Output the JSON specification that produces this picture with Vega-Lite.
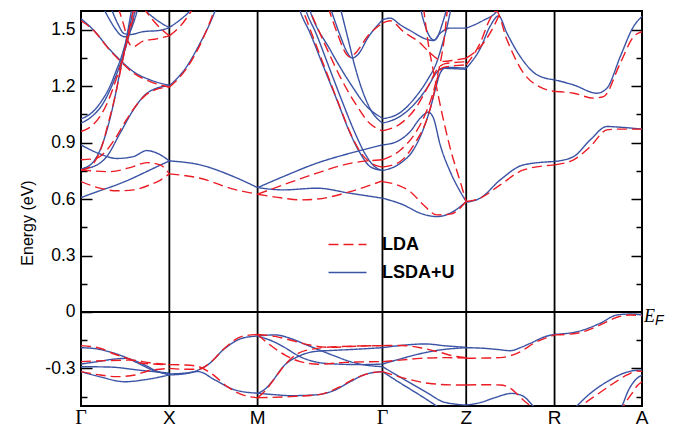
{
  "$schema": "https://vega.github.io/schema/vega-lite/v6.json",
  "width": 561,
  "height": 395,
  "autosize": {"type": "none"},
  "padding": {"left": 81, "top": 11, "right": 32, "bottom": 22},
  "config": {
    "view": {"stroke": "black", "strokeWidth": 2},
    "font": "Liberation Sans"
  },
  "resolve": {"axis": {"y": "independent"}},
  "layer": [
    {
      "data": {"values": [{"k": 88.3}, {"k": 176.5}, {"k": 301.3}, {"k": 385}, {"k": 473.3}]},
      "mark": {"type": "rule", "color": "black", "strokeWidth": 1.8},
      "encoding": {
        "x": {"field": "k", "type": "quantitative", "scale": {"domain": [0, 560.7], "nice": false, "zero": false}, "axis": null}
      }
    },
    {
      "data": {"values": [
        {"m":"LSDA+U","b":"bv1","k":0,"e":-0.19},{"m":"LSDA+U","b":"bv1","k":14,"e":-0.195},{"m":"LSDA+U","b":"bv1","k":27,"e":-0.21},{"m":"LSDA+U","b":"bv1","k":44,"e":-0.24},{"m":"LSDA+U","b":"bv1","k":60,"e":-0.28},{"m":"LSDA+U","b":"bv1","k":74,"e":-0.315},{"m":"LSDA+U","b":"bv1","k":88.3,"e":-0.33},
        {"m":"LSDA+U","b":"bv2","k":0,"e":-0.277},{"m":"LSDA+U","b":"bv2","k":19,"e":-0.262},{"m":"LSDA+U","b":"bv2","k":34,"e":-0.25},{"m":"LSDA+U","b":"bv2","k":44,"e":-0.247},{"m":"LSDA+U","b":"bv2","k":59,"e":-0.27},{"m":"LSDA+U","b":"bv2","k":74,"e":-0.31},{"m":"LSDA+U","b":"bv2","k":88.3,"e":-0.335},
        {"m":"LSDA+U","b":"bv3","k":0,"e":-0.291},{"m":"LSDA+U","b":"bv3","k":29,"e":-0.293},{"m":"LSDA+U","b":"bv3","k":59,"e":-0.31},{"m":"LSDA+U","b":"bv3","k":88.3,"e":-0.325},
        {"m":"LSDA+U","b":"bv4","k":0,"e":-0.317},{"m":"LSDA+U","b":"bv4","k":19,"e":-0.345},{"m":"LSDA+U","b":"bv4","k":44,"e":-0.371},{"m":"LSDA+U","b":"bv4","k":64,"e":-0.36},{"m":"LSDA+U","b":"bv4","k":88.3,"e":-0.335},
        {"m":"LSDA+U","b":"bv5","k":88.3,"e":-0.335},{"m":"LSDA+U","b":"bv5","k":107,"e":-0.326},{"m":"LSDA+U","b":"bv5","k":117,"e":-0.309},{"m":"LSDA+U","b":"bv5","k":127,"e":-0.28},{"m":"LSDA+U","b":"bv5","k":144,"e":-0.193},{"m":"LSDA+U","b":"bv5","k":161,"e":-0.14},{"m":"LSDA+U","b":"bv5","k":176.5,"e":-0.128},
        {"m":"LSDA+U","b":"bv6","k":88.3,"e":-0.33},{"m":"LSDA+U","b":"bv6","k":104,"e":-0.325},{"m":"LSDA+U","b":"bv6","k":117,"e":-0.317},{"m":"LSDA+U","b":"bv6","k":134,"e":-0.362},{"m":"LSDA+U","b":"bv6","k":154,"e":-0.415},{"m":"LSDA+U","b":"bv6","k":176.5,"e":-0.432},
        {"m":"LSDA+U","b":"bv7","k":176.5,"e":-0.128},{"m":"LSDA+U","b":"bv7","k":194,"e":-0.122},{"m":"LSDA+U","b":"bv7","k":209,"e":-0.14},{"m":"LSDA+U","b":"bv7","k":224,"e":-0.172},{"m":"LSDA+U","b":"bv7","k":237,"e":-0.2},{"m":"LSDA+U","b":"bv7","k":254,"e":-0.235},{"m":"LSDA+U","b":"bv7","k":269,"e":-0.264},{"m":"LSDA+U","b":"bv7","k":284,"e":-0.282},{"m":"LSDA+U","b":"bv7","k":301.3,"e":-0.291},
        {"m":"LSDA+U","b":"bv8","k":176.5,"e":-0.13},{"m":"LSDA+U","b":"bv8","k":189,"e":-0.15},{"m":"LSDA+U","b":"bv8","k":202,"e":-0.184},{"m":"LSDA+U","b":"bv8","k":219,"e":-0.238},{"m":"LSDA+U","b":"bv8","k":234,"e":-0.265},{"m":"LSDA+U","b":"bv8","k":249,"e":-0.275},{"m":"LSDA+U","b":"bv8","k":279,"e":-0.28},{"m":"LSDA+U","b":"bv8","k":301.3,"e":-0.277},
        {"m":"LSDA+U","b":"bv9","k":176.5,"e":-0.432},{"m":"LSDA+U","b":"bv9","k":184,"e":-0.41},{"m":"LSDA+U","b":"bv9","k":191,"e":-0.37},{"m":"LSDA+U","b":"bv9","k":202,"e":-0.291},{"m":"LSDA+U","b":"bv9","k":219,"e":-0.232},{"m":"LSDA+U","b":"bv9","k":234,"e":-0.21},{"m":"LSDA+U","b":"bv9","k":249,"e":-0.205},{"m":"LSDA+U","b":"bv9","k":269,"e":-0.2},{"m":"LSDA+U","b":"bv9","k":301.3,"e":-0.19},
        {"m":"LSDA+U","b":"bv10","k":176.5,"e":-0.432},{"m":"LSDA+U","b":"bv10","k":194,"e":-0.44},{"m":"LSDA+U","b":"bv10","k":209,"e":-0.445},{"m":"LSDA+U","b":"bv10","k":234,"e":-0.441},{"m":"LSDA+U","b":"bv10","k":254,"e":-0.415},{"m":"LSDA+U","b":"bv10","k":269,"e":-0.371},{"m":"LSDA+U","b":"bv10","k":284,"e":-0.332},{"m":"LSDA+U","b":"bv10","k":301.3,"e":-0.317},
        {"m":"LSDA+U","b":"bv11","k":301.3,"e":-0.19},{"m":"LSDA+U","b":"bv11","k":324,"e":-0.176},{"m":"LSDA+U","b":"bv11","k":344,"e":-0.17},{"m":"LSDA+U","b":"bv11","k":364,"e":-0.18},{"m":"LSDA+U","b":"bv11","k":385,"e":-0.188},
        {"m":"LSDA+U","b":"bv12","k":301.3,"e":-0.277},{"m":"LSDA+U","b":"bv12","k":319,"e":-0.25},{"m":"LSDA+U","b":"bv12","k":339,"e":-0.222},{"m":"LSDA+U","b":"bv12","k":359,"e":-0.202},{"m":"LSDA+U","b":"bv12","k":385,"e":-0.19},
        {"m":"LSDA+U","b":"bv13","k":301.3,"e":-0.291},{"m":"LSDA+U","b":"bv13","k":324,"e":-0.362},{"m":"LSDA+U","b":"bv13","k":347,"e":-0.433},{"m":"LSDA+U","b":"bv13","k":361,"e":-0.476},{"m":"LSDA+U","b":"bv13","k":374,"e":-0.49},{"m":"LSDA+U","b":"bv13","k":385,"e":-0.495},
        {"m":"LSDA+U","b":"bv14","k":301.3,"e":-0.317},{"m":"LSDA+U","b":"bv14","k":317,"e":-0.371},{"m":"LSDA+U","b":"bv14","k":341,"e":-0.45},{"m":"LSDA+U","b":"bv14","k":354,"e":-0.495},{"m":"LSDA+U","b":"bv14","k":364,"e":-0.53},
        {"m":"LSDA+U","b":"bv15","k":385,"e":-0.19},{"m":"LSDA+U","b":"bv15","k":402,"e":-0.193},{"m":"LSDA+U","b":"bv15","k":417,"e":-0.2},{"m":"LSDA+U","b":"bv15","k":429,"e":-0.206},{"m":"LSDA+U","b":"bv15","k":439,"e":-0.19},{"m":"LSDA+U","b":"bv15","k":449,"e":-0.167},{"m":"LSDA+U","b":"bv15","k":465.7,"e":-0.128},{"m":"LSDA+U","b":"bv15","k":473.3,"e":-0.119},
        {"m":"LSDA+U","b":"bv16","k":385,"e":-0.495},{"m":"LSDA+U","b":"bv16","k":399,"e":-0.482},{"m":"LSDA+U","b":"bv16","k":414,"e":-0.455},{"m":"LSDA+U","b":"bv16","k":430.7,"e":-0.433},{"m":"LSDA+U","b":"bv16","k":441,"e":-0.445},{"m":"LSDA+U","b":"bv16","k":452,"e":-0.5},{"m":"LSDA+U","b":"bv16","k":459,"e":-0.54},
        {"m":"LSDA+U","b":"bv17","k":473.3,"e":-0.119},{"m":"LSDA+U","b":"bv17","k":495.7,"e":-0.105},{"m":"LSDA+U","b":"bv17","k":519,"e":-0.06},{"m":"LSDA+U","b":"bv17","k":535.7,"e":-0.016},{"m":"LSDA+U","b":"bv17","k":549,"e":-0.011},{"m":"LSDA+U","b":"bv17","k":560.7,"e":-0.016},
        {"m":"LSDA+U","b":"bv18","k":489,"e":-0.54},{"m":"LSDA+U","b":"bv18","k":495.7,"e":-0.5},{"m":"LSDA+U","b":"bv18","k":509,"e":-0.433},{"m":"LSDA+U","b":"bv18","k":525.7,"e":-0.371},{"m":"LSDA+U","b":"bv18","k":542.3,"e":-0.326},{"m":"LSDA+U","b":"bv18","k":552.3,"e":-0.312},{"m":"LSDA+U","b":"bv18","k":560.7,"e":-0.309},
        {"m":"LSDA+U","b":"bv19","k":537,"e":-0.54},{"m":"LSDA+U","b":"bv19","k":540.7,"e":-0.5},{"m":"LSDA+U","b":"bv19","k":547.3,"e":-0.415},{"m":"LSDA+U","b":"bv19","k":554,"e":-0.362},{"m":"LSDA+U","b":"bv19","k":560.7,"e":-0.335},

        {"m":"LDA","b":"rv1","k":0,"e":-0.179},{"m":"LDA","b":"rv1","k":19,"e":-0.193},{"m":"LDA","b":"rv1","k":34,"e":-0.225},{"m":"LDA","b":"rv1","k":46,"e":-0.246},{"m":"LDA","b":"rv1","k":62,"e":-0.273},{"m":"LDA","b":"rv1","k":88.3,"e":-0.28},
        {"m":"LDA","b":"rv2","k":0,"e":-0.264},{"m":"LDA","b":"rv2","k":29,"e":-0.258},{"m":"LDA","b":"rv2","k":49,"e":-0.256},{"m":"LDA","b":"rv2","k":69,"e":-0.27},{"m":"LDA","b":"rv2","k":88.3,"e":-0.28},
        {"m":"LDA","b":"rv3","k":0,"e":-0.317},{"m":"LDA","b":"rv3","k":19,"e":-0.335},{"m":"LDA","b":"rv3","k":36,"e":-0.344},{"m":"LDA","b":"rv3","k":54,"e":-0.335},{"m":"LDA","b":"rv3","k":66,"e":-0.315},{"m":"LDA","b":"rv3","k":88.3,"e":-0.3},
        {"m":"LDA","b":"rv4","k":88.3,"e":-0.3},{"m":"LDA","b":"rv4","k":104,"e":-0.305},{"m":"LDA","b":"rv4","k":117,"e":-0.305},{"m":"LDA","b":"rv4","k":129,"e":-0.27},{"m":"LDA","b":"rv4","k":144,"e":-0.19},{"m":"LDA","b":"rv4","k":161,"e":-0.13},{"m":"LDA","b":"rv4","k":176.5,"e":-0.12},
        {"m":"LDA","b":"rv5","k":88.3,"e":-0.28},{"m":"LDA","b":"rv5","k":104,"e":-0.282},{"m":"LDA","b":"rv5","k":117,"e":-0.29},{"m":"LDA","b":"rv5","k":131,"e":-0.33},{"m":"LDA","b":"rv5","k":147,"e":-0.4},{"m":"LDA","b":"rv5","k":164,"e":-0.445},{"m":"LDA","b":"rv5","k":176.5,"e":-0.456},
        {"m":"LDA","b":"rv6","k":176.5,"e":-0.12},{"m":"LDA","b":"rv6","k":194,"e":-0.13},{"m":"LDA","b":"rv6","k":209,"e":-0.149},{"m":"LDA","b":"rv6","k":229,"e":-0.176},{"m":"LDA","b":"rv6","k":249,"e":-0.188},{"m":"LDA","b":"rv6","k":274,"e":-0.182},{"m":"LDA","b":"rv6","k":301.3,"e":-0.179},
        {"m":"LDA","b":"rv7","k":176.5,"e":-0.12},{"m":"LDA","b":"rv7","k":189,"e":-0.176},{"m":"LDA","b":"rv7","k":204,"e":-0.229},{"m":"LDA","b":"rv7","k":219,"e":-0.264},{"m":"LDA","b":"rv7","k":239,"e":-0.278},{"m":"LDA","b":"rv7","k":264,"e":-0.268},{"m":"LDA","b":"rv7","k":301.3,"e":-0.264},
        {"m":"LDA","b":"rv8","k":176.5,"e":-0.456},{"m":"LDA","b":"rv8","k":184,"e":-0.42},{"m":"LDA","b":"rv8","k":194,"e":-0.35},{"m":"LDA","b":"rv8","k":204,"e":-0.28},{"m":"LDA","b":"rv8","k":217,"e":-0.22},{"m":"LDA","b":"rv8","k":234,"e":-0.195},{"m":"LDA","b":"rv8","k":254,"e":-0.185},{"m":"LDA","b":"rv8","k":301.3,"e":-0.179},
        {"m":"LDA","b":"rv9","k":176.5,"e":-0.456},{"m":"LDA","b":"rv9","k":209,"e":-0.45},{"m":"LDA","b":"rv9","k":239,"e":-0.438},{"m":"LDA","b":"rv9","k":259,"e":-0.397},{"m":"LDA","b":"rv9","k":274,"e":-0.353},{"m":"LDA","b":"rv9","k":289,"e":-0.325},{"m":"LDA","b":"rv9","k":301.3,"e":-0.317},
        {"m":"LDA","b":"rv10","k":301.3,"e":-0.179},{"m":"LDA","b":"rv10","k":319,"e":-0.178},{"m":"LDA","b":"rv10","k":339,"e":-0.19},{"m":"LDA","b":"rv10","k":359,"e":-0.215},{"m":"LDA","b":"rv10","k":374,"e":-0.236},{"m":"LDA","b":"rv10","k":385,"e":-0.243},
        {"m":"LDA","b":"rv11","k":301.3,"e":-0.264},{"m":"LDA","b":"rv11","k":319,"e":-0.256},{"m":"LDA","b":"rv11","k":339,"e":-0.247},{"m":"LDA","b":"rv11","k":364,"e":-0.243},{"m":"LDA","b":"rv11","k":385,"e":-0.245},
        {"m":"LDA","b":"rv12","k":301.3,"e":-0.317},{"m":"LDA","b":"rv12","k":324,"e":-0.353},{"m":"LDA","b":"rv12","k":347,"e":-0.379},{"m":"LDA","b":"rv12","k":374,"e":-0.388},{"m":"LDA","b":"rv12","k":385,"e":-0.388},
        {"m":"LDA","b":"rv13","k":385,"e":-0.246},{"m":"LDA","b":"rv13","k":404,"e":-0.245},{"m":"LDA","b":"rv13","k":419,"e":-0.243},{"m":"LDA","b":"rv13","k":435.7,"e":-0.22},{"m":"LDA","b":"rv13","k":455.7,"e":-0.158},{"m":"LDA","b":"rv13","k":473.3,"e":-0.122},
        {"m":"LDA","b":"rv14","k":385,"e":-0.388},{"m":"LDA","b":"rv14","k":404,"e":-0.387},{"m":"LDA","b":"rv14","k":419,"e":-0.388},{"m":"LDA","b":"rv14","k":429,"e":-0.405},{"m":"LDA","b":"rv14","k":442,"e":-0.468},{"m":"LDA","b":"rv14","k":449,"e":-0.5},{"m":"LDA","b":"rv14","k":456,"e":-0.54},
        {"m":"LDA","b":"rv15","k":473.3,"e":-0.122},{"m":"LDA","b":"rv15","k":495.7,"e":-0.113},{"m":"LDA","b":"rv15","k":519,"e":-0.069},{"m":"LDA","b":"rv15","k":535.7,"e":-0.028},{"m":"LDA","b":"rv15","k":549,"e":-0.016},{"m":"LDA","b":"rv15","k":560.7,"e":-0.021},
        {"m":"LDA","b":"rv16","k":494,"e":-0.54},{"m":"LDA","b":"rv16","k":500.7,"e":-0.5},{"m":"LDA","b":"rv16","k":515.7,"e":-0.44},{"m":"LDA","b":"rv16","k":532.3,"e":-0.379},{"m":"LDA","b":"rv16","k":545.7,"e":-0.335},{"m":"LDA","b":"rv16","k":555.7,"e":-0.314},{"m":"LDA","b":"rv16","k":560.7,"e":-0.316},
        {"m":"LDA","b":"rv17","k":539,"e":-0.54},{"m":"LDA","b":"rv17","k":542.3,"e":-0.5},{"m":"LDA","b":"rv17","k":550.7,"e":-0.433},{"m":"LDA","b":"rv17","k":555.7,"e":-0.394},{"m":"LDA","b":"rv17","k":560.7,"e":-0.371},

        {"m":"LSDA+U","b":"bc1","k":0,"e":0.608},{"m":"LSDA+U","b":"bc1","k":19,"e":0.645},{"m":"LSDA+U","b":"bc1","k":35.7,"e":0.676},{"m":"LSDA+U","b":"bc1","k":49,"e":0.705},{"m":"LSDA+U","b":"bc1","k":62.3,"e":0.738},{"m":"LSDA+U","b":"bc1","k":75,"e":0.77},{"m":"LSDA+U","b":"bc1","k":88.3,"e":0.803},
        {"m":"LSDA+U","b":"bc2","k":0,"e":0.888},{"m":"LSDA+U","b":"bc2","k":19,"e":0.84},{"m":"LSDA+U","b":"bc2","k":35.7,"e":0.816},{"m":"LSDA+U","b":"bc2","k":52.3,"e":0.826},{"m":"LSDA+U","b":"bc2","k":65.7,"e":0.858},{"m":"LSDA+U","b":"bc2","k":75.7,"e":0.845},{"m":"LSDA+U","b":"bc2","k":88.3,"e":0.803},
        {"m":"LSDA+U","b":"bc3","k":0,"e":0.761},{"m":"LSDA+U","b":"bc3","k":12.3,"e":0.773},{"m":"LSDA+U","b":"bc3","k":25.7,"e":0.826},{"m":"LSDA+U","b":"bc3","k":39,"e":0.95},{"m":"LSDA+U","b":"bc3","k":52.3,"e":1.074},{"m":"LSDA+U","b":"bc3","k":62.3,"e":1.145},{"m":"LSDA+U","b":"bc3","k":75.7,"e":1.19},{"m":"LSDA+U","b":"bc3","k":88.3,"e":1.202},
        {"m":"LSDA+U","b":"bc4","k":0,"e":1.559},{"m":"LSDA+U","b":"bc4","k":12.3,"e":1.5},{"m":"LSDA+U","b":"bc4","k":29,"e":1.394},{"m":"LSDA+U","b":"bc4","k":39,"e":1.34},{"m":"LSDA+U","b":"bc4","k":52.3,"e":1.278},{"m":"LSDA+U","b":"bc4","k":69,"e":1.234},{"m":"LSDA+U","b":"bc4","k":88.3,"e":1.205},
        {"m":"LSDA+U","b":"bc5","k":0,"e":0.761},{"m":"LSDA+U","b":"bc5","k":11,"e":0.79},{"m":"LSDA+U","b":"bc5","k":19,"e":0.86},{"m":"LSDA+U","b":"bc5","k":25,"e":0.95},{"m":"LSDA+U","b":"bc5","k":30,"e":1.05},{"m":"LSDA+U","b":"bc5","k":35,"e":1.17},{"m":"LSDA+U","b":"bc5","k":39,"e":1.28},{"m":"LSDA+U","b":"bc5","k":43,"e":1.38},{"m":"LSDA+U","b":"bc5","k":47,"e":1.5},{"m":"LSDA+U","b":"bc5","k":51,"e":1.62},
        {"m":"LSDA+U","b":"bc6","k":0,"e":1.004},{"m":"LSDA+U","b":"bc6","k":11,"e":1.04},{"m":"LSDA+U","b":"bc6","k":21,"e":1.1},{"m":"LSDA+U","b":"bc6","k":29,"e":1.18},{"m":"LSDA+U","b":"bc6","k":36,"e":1.27},{"m":"LSDA+U","b":"bc6","k":42,"e":1.36},{"m":"LSDA+U","b":"bc6","k":48,"e":1.47},{"m":"LSDA+U","b":"bc6","k":54,"e":1.6},{"m":"LSDA+U","b":"bc6","k":56,"e":1.65},
        {"m":"LSDA+U","b":"bc7","k":0,"e":1.027},{"m":"LSDA+U","b":"bc7","k":11,"e":1.06},{"m":"LSDA+U","b":"bc7","k":21,"e":1.125},{"m":"LSDA+U","b":"bc7","k":29,"e":1.2},{"m":"LSDA+U","b":"bc7","k":35,"e":1.28},{"m":"LSDA+U","b":"bc7","k":40,"e":1.35},{"m":"LSDA+U","b":"bc7","k":45,"e":1.44},{"m":"LSDA+U","b":"bc7","k":50,"e":1.55},{"m":"LSDA+U","b":"bc7","k":53,"e":1.62},
        {"m":"LSDA+U","b":"bcU1","k":22,"e":1.62},{"m":"LSDA+U","b":"bcU1","k":29,"e":1.55},{"m":"LSDA+U","b":"bcU1","k":35,"e":1.5},{"m":"LSDA+U","b":"bcU1","k":40,"e":1.47},{"m":"LSDA+U","b":"bcU1","k":44,"e":1.463},{"m":"LSDA+U","b":"bcU1","k":48,"e":1.48},{"m":"LSDA+U","b":"bcU1","k":52,"e":1.53},{"m":"LSDA+U","b":"bcU1","k":56,"e":1.6},{"m":"LSDA+U","b":"bcU1","k":58,"e":1.65},
        {"m":"LSDA+U","b":"bcU2","k":29,"e":1.63},{"m":"LSDA+U","b":"bcU2","k":37,"e":1.53},{"m":"LSDA+U","b":"bcU2","k":43,"e":1.48},{"m":"LSDA+U","b":"bcU2","k":49,"e":1.475},{"m":"LSDA+U","b":"bcU2","k":62,"e":1.49},{"m":"LSDA+U","b":"bcU2","k":79,"e":1.497},{"m":"LSDA+U","b":"bcU2","k":88.3,"e":1.512},
        {"m":"LSDA+U","b":"bcU3","k":59,"e":1.63},{"m":"LSDA+U","b":"bcU3","k":69,"e":1.58},{"m":"LSDA+U","b":"bcU3","k":79,"e":1.54},{"m":"LSDA+U","b":"bcU3","k":88.3,"e":1.512},
        {"m":"LSDA+U","b":"bc8","k":88.3,"e":1.512},{"m":"LSDA+U","b":"bc8","k":99,"e":1.553},{"m":"LSDA+U","b":"bc8","k":109,"e":1.6},{"m":"LSDA+U","b":"bc8","k":114,"e":1.63},
        {"m":"LSDA+U","b":"bc9","k":88.3,"e":1.202},{"m":"LSDA+U","b":"bc9","k":105.7,"e":1.305},{"m":"LSDA+U","b":"bc9","k":119,"e":1.429},{"m":"LSDA+U","b":"bc9","k":129,"e":1.536},{"m":"LSDA+U","b":"bc9","k":134,"e":1.6},{"m":"LSDA+U","b":"bc9","k":137,"e":1.64},
        {"m":"LSDA+U","b":"bc10","k":88.3,"e":0.803},{"m":"LSDA+U","b":"bc10","k":119,"e":0.782},{"m":"LSDA+U","b":"bc10","k":152.3,"e":0.72},{"m":"LSDA+U","b":"bc10","k":176.5,"e":0.661},
        {"m":"LSDA+U","b":"bc11","k":176.5,"e":0.661},{"m":"LSDA+U","b":"bc11","k":202.3,"e":0.649},{"m":"LSDA+U","b":"bc11","k":235.7,"e":0.658},{"m":"LSDA+U","b":"bc11","k":269,"e":0.631},{"m":"LSDA+U","b":"bc11","k":301.3,"e":0.605},
        {"m":"LSDA+U","b":"bc12","k":176.5,"e":0.661},{"m":"LSDA+U","b":"bc12","k":202.3,"e":0.72},{"m":"LSDA+U","b":"bc12","k":235.7,"e":0.791},{"m":"LSDA+U","b":"bc12","k":269,"e":0.844},{"m":"LSDA+U","b":"bc12","k":301.3,"e":0.888},
        {"m":"LSDA+U","b":"bcP1","k":216,"e":1.65},{"m":"LSDA+U","b":"bcP1","k":219,"e":1.6},{"m":"LSDA+U","b":"bcP1","k":229,"e":1.482},{"m":"LSDA+U","b":"bcP1","k":242.3,"e":1.305},{"m":"LSDA+U","b":"bcP1","k":255.7,"e":1.128},{"m":"LSDA+U","b":"bcP1","k":269,"e":0.95},{"m":"LSDA+U","b":"bcP1","k":279,"e":0.844},{"m":"LSDA+U","b":"bcP1","k":289,"e":0.773},{"m":"LSDA+U","b":"bcP1","k":301.3,"e":0.752},
        {"m":"LSDA+U","b":"bcP2","k":222,"e":1.65},{"m":"LSDA+U","b":"bcP2","k":225,"e":1.6},{"m":"LSDA+U","b":"bcP2","k":235,"e":1.48},{"m":"LSDA+U","b":"bcP2","k":248,"e":1.3},{"m":"LSDA+U","b":"bcP2","k":261,"e":1.12},{"m":"LSDA+U","b":"bcP2","k":274,"e":0.95},{"m":"LSDA+U","b":"bcP2","k":284,"e":0.84},{"m":"LSDA+U","b":"bcP2","k":293,"e":0.775},{"m":"LSDA+U","b":"bcP2","k":301.3,"e":0.752},
        {"m":"LSDA+U","b":"bcP3","k":226,"e":1.65},{"m":"LSDA+U","b":"bcP3","k":229,"e":1.6},{"m":"LSDA+U","b":"bcP3","k":249,"e":1.394},{"m":"LSDA+U","b":"bcP3","k":269,"e":1.216},{"m":"LSDA+U","b":"bcP3","k":285.7,"e":1.092},{"m":"LSDA+U","b":"bcP3","k":301.3,"e":1.03},
        {"m":"LSDA+U","b":"bcV","k":249,"e":1.62},{"m":"LSDA+U","b":"bcV","k":259,"e":1.47},{"m":"LSDA+U","b":"bcV","k":266,"e":1.38},{"m":"LSDA+U","b":"bcV","k":271,"e":1.35},{"m":"LSDA+U","b":"bcV","k":277,"e":1.37},{"m":"LSDA+U","b":"bcV","k":287,"e":1.46},{"m":"LSDA+U","b":"bcV","k":301.3,"e":1.553},
        {"m":"LSDA+U","b":"bcP4","k":259,"e":1.62},{"m":"LSDA+U","b":"bcP4","k":267,"e":1.45},{"m":"LSDA+U","b":"bcP4","k":274,"e":1.3},{"m":"LSDA+U","b":"bcP4","k":281,"e":1.18},{"m":"LSDA+U","b":"bcP4","k":289,"e":1.08},{"m":"LSDA+U","b":"bcP4","k":301.3,"e":1.004},
        {"m":"LSDA+U","b":"bc13","k":301.3,"e":0.605},{"m":"LSDA+U","b":"bc13","k":322.3,"e":0.569},{"m":"LSDA+U","b":"bc13","k":339,"e":0.525},{"m":"LSDA+U","b":"bc13","k":355.7,"e":0.507},{"m":"LSDA+U","b":"bc13","k":369,"e":0.525},{"m":"LSDA+U","b":"bc13","k":385,"e":0.587},
        {"m":"LSDA+U","b":"bc14","k":301.3,"e":0.888},{"m":"LSDA+U","b":"bc14","k":315.7,"e":0.906},{"m":"LSDA+U","b":"bc14","k":329,"e":0.959},{"m":"LSDA+U","b":"bc14","k":339,"e":1.03},{"m":"LSDA+U","b":"bc14","k":347.3,"e":1.062},{"m":"LSDA+U","b":"bc14","k":352.3,"e":1.03},{"m":"LSDA+U","b":"bc14","k":359,"e":0.888},{"m":"LSDA+U","b":"bc14","k":369,"e":0.746},{"m":"LSDA+U","b":"bc14","k":379,"e":0.64},{"m":"LSDA+U","b":"bc14","k":385,"e":0.587},
        {"m":"LSDA+U","b":"bc15","k":301.3,"e":0.752},{"m":"LSDA+U","b":"bc15","k":319,"e":0.79},{"m":"LSDA+U","b":"bc15","k":332,"e":0.86},{"m":"LSDA+U","b":"bc15","k":342,"e":0.97},{"m":"LSDA+U","b":"bc15","k":349,"e":1.08},{"m":"LSDA+U","b":"bc15","k":355,"e":1.2},{"m":"LSDA+U","b":"bc15","k":359,"e":1.27},{"m":"LSDA+U","b":"bc15","k":365,"e":1.3},{"m":"LSDA+U","b":"bc15","k":385,"e":1.296},
        {"m":"LSDA+U","b":"bc16","k":301.3,"e":1.004},{"m":"LSDA+U","b":"bc16","k":319,"e":1.04},{"m":"LSDA+U","b":"bc16","k":334,"e":1.11},{"m":"LSDA+U","b":"bc16","k":347,"e":1.2},{"m":"LSDA+U","b":"bc16","k":355,"e":1.27},{"m":"LSDA+U","b":"bc16","k":361,"e":1.295},{"m":"LSDA+U","b":"bc16","k":385,"e":1.29},
        {"m":"LSDA+U","b":"bc17","k":301.3,"e":1.027},{"m":"LSDA+U","b":"bc17","k":319,"e":1.06},{"m":"LSDA+U","b":"bc17","k":334,"e":1.14},{"m":"LSDA+U","b":"bc17","k":347,"e":1.24},{"m":"LSDA+U","b":"bc17","k":355,"e":1.32},{"m":"LSDA+U","b":"bc17","k":361,"e":1.42},{"m":"LSDA+U","b":"bc17","k":366,"e":1.52},{"m":"LSDA+U","b":"bc17","k":370,"e":1.62},
        {"m":"LSDA+U","b":"bc18","k":301.3,"e":1.553},{"m":"LSDA+U","b":"bc18","k":309,"e":1.562},{"m":"LSDA+U","b":"bc18","k":319,"e":1.527},{"m":"LSDA+U","b":"bc18","k":331,"e":1.49},{"m":"LSDA+U","b":"bc18","k":342.3,"e":1.456},{"m":"LSDA+U","b":"bc18","k":352.3,"e":1.443},{"m":"LSDA+U","b":"bc18","k":359,"e":1.482},{"m":"LSDA+U","b":"bc18","k":369,"e":1.509},{"m":"LSDA+U","b":"bc18","k":385,"e":1.509},
        {"m":"LSDA+U","b":"bcU4","k":339,"e":1.62},{"m":"LSDA+U","b":"bcU4","k":344,"e":1.52},{"m":"LSDA+U","b":"bcU4","k":349,"e":1.46},{"m":"LSDA+U","b":"bcU4","k":353,"e":1.445},{"m":"LSDA+U","b":"bcU4","k":357,"e":1.47},{"m":"LSDA+U","b":"bcU4","k":361,"e":1.53},{"m":"LSDA+U","b":"bcU4","k":366,"e":1.62},
        {"m":"LSDA+U","b":"bc19","k":385,"e":1.296},{"m":"LSDA+U","b":"bc19","k":399,"e":1.4},{"m":"LSDA+U","b":"bc19","k":409,"e":1.52},{"m":"LSDA+U","b":"bc19","k":417.3,"e":1.574},{"m":"LSDA+U","b":"bc19","k":425.7,"e":1.482},{"m":"LSDA+U","b":"bc19","k":439,"e":1.358},{"m":"LSDA+U","b":"bc19","k":455.7,"e":1.261},{"m":"LSDA+U","b":"bc19","k":473.3,"e":1.234},
        {"m":"LSDA+U","b":"bc20","k":385,"e":1.509},{"m":"LSDA+U","b":"bc20","k":402,"e":1.55},{"m":"LSDA+U","b":"bc20","k":415.7,"e":1.6},{"m":"LSDA+U","b":"bc20","k":421,"e":1.65},
        {"m":"LSDA+U","b":"bc22","k":385,"e":0.583},{"m":"LSDA+U","b":"bc22","k":399,"e":0.605},{"m":"LSDA+U","b":"bc22","k":419,"e":0.702},{"m":"LSDA+U","b":"bc22","k":442.3,"e":0.782},{"m":"LSDA+U","b":"bc22","k":473.3,"e":0.8},
        {"m":"LSDA+U","b":"bc23","k":473.3,"e":1.234},{"m":"LSDA+U","b":"bc23","k":492.3,"e":1.207},{"m":"LSDA+U","b":"bc23","k":515.7,"e":1.163},{"m":"LSDA+U","b":"bc23","k":525.7,"e":1.19},{"m":"LSDA+U","b":"bc23","k":539,"e":1.358},{"m":"LSDA+U","b":"bc23","k":552.3,"e":1.518},{"m":"LSDA+U","b":"bc23","k":560.7,"e":1.571},
        {"m":"LSDA+U","b":"bc24","k":473.3,"e":0.8},{"m":"LSDA+U","b":"bc24","k":492.3,"e":0.826},{"m":"LSDA+U","b":"bc24","k":509,"e":0.915},{"m":"LSDA+U","b":"bc24","k":525.7,"e":0.986},{"m":"LSDA+U","b":"bc24","k":539,"e":0.982},{"m":"LSDA+U","b":"bc24","k":560.7,"e":0.972},

        {"m":"LDA","b":"rc1","k":0,"e":0.693},{"m":"LDA","b":"rc1","k":19,"e":0.658},{"m":"LDA","b":"rc1","k":35.7,"e":0.644},{"m":"LDA","b":"rc1","k":52.3,"e":0.649},{"m":"LDA","b":"rc1","k":69,"e":0.676},{"m":"LDA","b":"rc1","k":79,"e":0.7},{"m":"LDA","b":"rc1","k":88.3,"e":0.734},
        {"m":"LDA","b":"rc2","k":0,"e":0.755},{"m":"LDA","b":"rc2","k":29,"e":0.746},{"m":"LDA","b":"rc2","k":52.3,"e":0.773},{"m":"LDA","b":"rc2","k":65.7,"e":0.794},{"m":"LDA","b":"rc2","k":79,"e":0.782},{"m":"LDA","b":"rc2","k":88.3,"e":0.734},
        {"m":"LDA","b":"rc3","k":0,"e":0.809},{"m":"LDA","b":"rc3","k":14,"e":0.815},{"m":"LDA","b":"rc3","k":24,"e":0.85},{"m":"LDA","b":"rc3","k":34,"e":0.92},{"m":"LDA","b":"rc3","k":44,"e":1.01},{"m":"LDA","b":"rc3","k":54,"e":1.09},{"m":"LDA","b":"rc3","k":64,"e":1.15},{"m":"LDA","b":"rc3","k":76,"e":1.185},{"m":"LDA","b":"rc3","k":88.3,"e":1.195},
        {"m":"LDA","b":"rc4","k":0,"e":0.755},{"m":"LDA","b":"rc4","k":9,"e":0.77},{"m":"LDA","b":"rc4","k":16,"e":0.82},{"m":"LDA","b":"rc4","k":22,"e":0.9},{"m":"LDA","b":"rc4","k":27,"e":1.0},{"m":"LDA","b":"rc4","k":32,"e":1.1},{"m":"LDA","b":"rc4","k":37,"e":1.22},{"m":"LDA","b":"rc4","k":41,"e":1.32},{"m":"LDA","b":"rc4","k":45,"e":1.42},{"m":"LDA","b":"rc4","k":49,"e":1.52},{"m":"LDA","b":"rc4","k":53,"e":1.62},
        {"m":"LDA","b":"rc5","k":0,"e":0.959},{"m":"LDA","b":"rc5","k":11,"e":0.99},{"m":"LDA","b":"rc5","k":19,"e":1.04},{"m":"LDA","b":"rc5","k":27,"e":1.12},{"m":"LDA","b":"rc5","k":34,"e":1.22},{"m":"LDA","b":"rc5","k":39,"e":1.3},{"m":"LDA","b":"rc5","k":44,"e":1.4},{"m":"LDA","b":"rc5","k":49,"e":1.5},{"m":"LDA","b":"rc5","k":54,"e":1.6},{"m":"LDA","b":"rc5","k":56,"e":1.65},
        {"m":"LDA","b":"rc6","k":0,"e":1.548},{"m":"LDA","b":"rc6","k":12,"e":1.5},{"m":"LDA","b":"rc6","k":29,"e":1.39},{"m":"LDA","b":"rc6","k":39,"e":1.335},{"m":"LDA","b":"rc6","k":52,"e":1.272},{"m":"LDA","b":"rc6","k":69,"e":1.225},{"m":"LDA","b":"rc6","k":88.3,"e":1.195},
        {"m":"LDA","b":"rcU1","k":37,"e":1.62},{"m":"LDA","b":"rcU1","k":43,"e":1.52},{"m":"LDA","b":"rcU1","k":47,"e":1.44},{"m":"LDA","b":"rcU1","k":52,"e":1.41},{"m":"LDA","b":"rcU1","k":62,"e":1.44},{"m":"LDA","b":"rcU1","k":75.7,"e":1.452},{"m":"LDA","b":"rcU1","k":88.3,"e":1.468},
        {"m":"LDA","b":"rcU2","k":62,"e":1.62},{"m":"LDA","b":"rcU2","k":69,"e":1.57},{"m":"LDA","b":"rcU2","k":79,"e":1.51},{"m":"LDA","b":"rcU2","k":88.3,"e":1.468},
        {"m":"LDA","b":"rc7","k":88.3,"e":1.468},{"m":"LDA","b":"rc7","k":99,"e":1.518},{"m":"LDA","b":"rc7","k":109,"e":1.589},{"m":"LDA","b":"rc7","k":114,"e":1.63},
        {"m":"LDA","b":"rc8","k":88.3,"e":1.195},{"m":"LDA","b":"rc8","k":105.7,"e":1.296},{"m":"LDA","b":"rc8","k":119,"e":1.42},{"m":"LDA","b":"rc8","k":132.3,"e":1.59},{"m":"LDA","b":"rc8","k":135,"e":1.63},
        {"m":"LDA","b":"rc9","k":88.3,"e":0.734},{"m":"LDA","b":"rc9","k":119,"e":0.711},{"m":"LDA","b":"rc9","k":152.3,"e":0.653},{"m":"LDA","b":"rc9","k":176.5,"e":0.626},
        {"m":"LDA","b":"rc10","k":176.5,"e":0.626},{"m":"LDA","b":"rc10","k":202.3,"e":0.605},{"m":"LDA","b":"rc10","k":219,"e":0.596},{"m":"LDA","b":"rc10","k":235.7,"e":0.6},{"m":"LDA","b":"rc10","k":269,"e":0.64},{"m":"LDA","b":"rc10","k":301.3,"e":0.697},
        {"m":"LDA","b":"rc11","k":176.5,"e":0.626},{"m":"LDA","b":"rc11","k":202.3,"e":0.676},{"m":"LDA","b":"rc11","k":235.7,"e":0.738},{"m":"LDA","b":"rc11","k":269,"e":0.79},{"m":"LDA","b":"rc11","k":301.3,"e":0.809},
        {"m":"LDA","b":"rcP1","k":218,"e":1.65},{"m":"LDA","b":"rcP1","k":222,"e":1.6},{"m":"LDA","b":"rcP1","k":232,"e":1.46},{"m":"LDA","b":"rcP1","k":245,"e":1.28},{"m":"LDA","b":"rcP1","k":258,"e":1.1},{"m":"LDA","b":"rcP1","k":271,"e":0.93},{"m":"LDA","b":"rcP1","k":282,"e":0.83},{"m":"LDA","b":"rcP1","k":292,"e":0.785},{"m":"LDA","b":"rcP1","k":301.3,"e":0.77},
        {"m":"LDA","b":"rcP2","k":225,"e":1.65},{"m":"LDA","b":"rcP2","k":229,"e":1.6},{"m":"LDA","b":"rcP2","k":244,"e":1.42},{"m":"LDA","b":"rcP2","k":259,"e":1.25},{"m":"LDA","b":"rcP2","k":274,"e":1.11},{"m":"LDA","b":"rcP2","k":289,"e":1.0},{"m":"LDA","b":"rcP2","k":301.3,"e":0.963},
        {"m":"LDA","b":"rcV","k":247,"e":1.62},{"m":"LDA","b":"rcV","k":257,"e":1.47},{"m":"LDA","b":"rcV","k":264,"e":1.38},{"m":"LDA","b":"rcV","k":269,"e":1.355},{"m":"LDA","b":"rcV","k":275,"e":1.38},{"m":"LDA","b":"rcV","k":287,"e":1.47},{"m":"LDA","b":"rcV","k":301.3,"e":1.535},
        {"m":"LDA","b":"rc12","k":301.3,"e":0.693},{"m":"LDA","b":"rc12","k":315.7,"e":0.676},{"m":"LDA","b":"rc12","k":329,"e":0.64},{"m":"LDA","b":"rc12","k":342.3,"e":0.569},{"m":"LDA","b":"rc12","k":355.7,"e":0.516},{"m":"LDA","b":"rc12","k":369,"e":0.52},{"m":"LDA","b":"rc12","k":385,"e":0.587},
        {"m":"LDA","b":"rc13","k":342.3,"e":1.62},{"m":"LDA","b":"rc13","k":347.3,"e":1.42},{"m":"LDA","b":"rc13","k":352.3,"e":1.278},{"m":"LDA","b":"rc13","k":359,"e":1.101},{"m":"LDA","b":"rc13","k":369,"e":0.871},{"m":"LDA","b":"rc13","k":379,"e":0.693},{"m":"LDA","b":"rc13","k":385,"e":0.587},
        {"m":"LDA","b":"rc14","k":301.3,"e":0.809},{"m":"LDA","b":"rc14","k":319,"e":0.86},{"m":"LDA","b":"rc14","k":334,"e":0.95},{"m":"LDA","b":"rc14","k":344,"e":1.05},{"m":"LDA","b":"rc14","k":351,"e":1.15},{"m":"LDA","b":"rc14","k":356,"e":1.25},{"m":"LDA","b":"rc14","k":360,"e":1.35},{"m":"LDA","b":"rc14","k":363,"e":1.45},{"m":"LDA","b":"rc14","k":366,"e":1.6},{"m":"LDA","b":"rc14","k":367,"e":1.65},
        {"m":"LDA","b":"rc15","k":301.3,"e":0.77},{"m":"LDA","b":"rc15","k":319,"e":0.8},{"m":"LDA","b":"rc15","k":334,"e":0.9},{"m":"LDA","b":"rc15","k":344,"e":1.0},{"m":"LDA","b":"rc15","k":351,"e":1.12},{"m":"LDA","b":"rc15","k":356,"e":1.24},{"m":"LDA","b":"rc15","k":362,"e":1.3},{"m":"LDA","b":"rc15","k":385,"e":1.314},
        {"m":"LDA","b":"rc16","k":301.3,"e":0.963},{"m":"LDA","b":"rc16","k":319,"e":1.0},{"m":"LDA","b":"rc16","k":334,"e":1.08},{"m":"LDA","b":"rc16","k":347,"e":1.2},{"m":"LDA","b":"rc16","k":356,"e":1.29},{"m":"LDA","b":"rc16","k":364,"e":1.32},{"m":"LDA","b":"rc16","k":385,"e":1.33},
        {"m":"LDA","b":"rc17","k":301.3,"e":1.535},{"m":"LDA","b":"rc17","k":309,"e":1.548},{"m":"LDA","b":"rc17","k":322.3,"e":1.49},{"m":"LDA","b":"rc17","k":339,"e":1.43},{"m":"LDA","b":"rc17","k":349,"e":1.376},{"m":"LDA","b":"rc17","k":362.3,"e":1.332},{"m":"LDA","b":"rc17","k":374,"e":1.34},{"m":"LDA","b":"rc17","k":385,"e":1.349},
        {"m":"LDA","b":"rc18","k":385,"e":1.314},{"m":"LDA","b":"rc18","k":399,"e":1.43},{"m":"LDA","b":"rc18","k":409,"e":1.56},{"m":"LDA","b":"rc18","k":415,"e":1.6},{"m":"LDA","b":"rc18","k":425.7,"e":1.447},{"m":"LDA","b":"rc18","k":442.3,"e":1.27},{"m":"LDA","b":"rc18","k":459,"e":1.195},{"m":"LDA","b":"rc18","k":473.3,"e":1.172},
        {"m":"LDA","b":"rc19","k":385,"e":1.349},{"m":"LDA","b":"rc19","k":402.3,"e":1.43},{"m":"LDA","b":"rc19","k":415.7,"e":1.553},{"m":"LDA","b":"rc19","k":421,"e":1.62},
        {"m":"LDA","b":"rc20","k":385,"e":0.587},{"m":"LDA","b":"rc20","k":399,"e":0.605},{"m":"LDA","b":"rc20","k":419,"e":0.676},{"m":"LDA","b":"rc20","k":442.3,"e":0.755},{"m":"LDA","b":"rc20","k":473.3,"e":0.782},
        {"m":"LDA","b":"rc21","k":473.3,"e":1.172},{"m":"LDA","b":"rc21","k":492.3,"e":1.163},{"m":"LDA","b":"rc21","k":512.3,"e":1.137},{"m":"LDA","b":"rc21","k":522.3,"e":1.145},{"m":"LDA","b":"rc21","k":539,"e":1.323},{"m":"LDA","b":"rc21","k":552.3,"e":1.464},{"m":"LDA","b":"rc21","k":560.7,"e":1.49},
        {"m":"LDA","b":"rc22","k":473.3,"e":0.782},{"m":"LDA","b":"rc22","k":492.3,"e":0.809},{"m":"LDA","b":"rc22","k":509,"e":0.879},{"m":"LDA","b":"rc22","k":525.7,"e":0.968},{"m":"LDA","b":"rc22","k":539,"e":0.972},{"m":"LDA","b":"rc22","k":560.7,"e":0.972}
      ]},
      "mark": {"type": "line", "interpolate": "monotone", "strokeWidth": 1.4, "clip": true},
      "encoding": {
        "x": {"field": "k", "type": "quantitative", "scale": {"domain": [0, 560.7], "nice": false, "zero": false}, "axis": null},
        "y": {
          "field": "e", "type": "quantitative",
          "scale": {"domain": [-0.5, 1.6], "nice": false, "zero": false},
          "axis": {
            "orient": "left",
            "values": [-0.3, 0, 0.3, 0.6, 0.9, 1.2, 1.5],
            "labelExpr": "datum.value == 0 ? '0' : datum.value < 0 ? '-' + format(-datum.value, '.1f') : format(datum.value, '.1f')",
            "tickSize": -11, "tickWidth": 1.5, "tickColor": "black",
            "labelPadding": 17, "labelFont": "Liberation Sans", "labelFontSize": 17.5, "labelColor": "black",
            "domain": false, "grid": false,
            "title": "Energy (eV)", "titleFont": "Liberation Sans", "titleFontSize": 16, "titleFontWeight": "normal", "titleColor": "black",
            "titleX": -46, "titleY": 211.5, "titleBaseline": "bottom"
          }
        },
        "color": {
          "field": "m", "type": "nominal",
          "scale": {"domain": ["LDA", "LSDA+U"], "range": ["#ec1c24", "#3a53a4"]},
          "legend": {"orient": "none", "legendX": 256, "legendY": 223, "title": null, "padding": 0,
            "symbolType": "M-2,0H2", "symbolSize": 361, "symbolStrokeWidth": 1.5,
            "labelFont": "Liberation Sans", "labelFontSize": 18, "labelFontWeight": "bold", "labelColor": "black",
            "labelOffset": 24, "rowPadding": 8}
        },
        "strokeDash": {
          "field": "m", "type": "nominal",
          "scale": {"domain": ["LDA", "LSDA+U"], "range": [[10, 5], [1, 0]]},
          "legend": {"orient": "none", "legendX": 256, "legendY": 223, "title": null, "padding": 0,
            "symbolType": "M-2,0H2", "symbolSize": 361, "symbolStrokeWidth": 1.5,
            "labelFont": "Liberation Sans", "labelFontSize": 18, "labelFontWeight": "bold", "labelColor": "black",
            "labelOffset": 24, "rowPadding": 8}
        },
        "detail": {"field": "b", "type": "nominal"}
      }
    },
    {
      "data": {"values": [{}]},
      "mark": {"type": "rule", "color": "black", "strokeWidth": 2},
      "encoding": {
        "y": {
          "datum": 0, "type": "quantitative",
          "scale": {"domain": [-0.5, 1.6], "nice": false, "zero": false},
          "axis": {"orient": "left", "values": [-0.45, -0.15, 0.15, 0.45, 0.75, 1.05, 1.35], "tickSize": -6, "tickWidth": 1.5, "tickColor": "black", "labels": false, "domain": false, "grid": false, "title": null}
        }
      }
    },
    {
      "data": {"values": [{}]},
      "mark": {"type": "text", "text": "E", "font": "Liberation Serif", "fontStyle": "italic", "fontSize": 18, "align": "left", "baseline": "alphabetic", "dx": 2, "dy": 10, "color": "black"},
      "encoding": {
        "x": {"datum": 560.7, "type": "quantitative", "scale": {"domain": [0, 560.7], "nice": false, "zero": false}, "axis": null},
        "y": {
          "datum": 0, "type": "quantitative",
          "scale": {"domain": [-0.5, 1.6], "nice": false, "zero": false},
          "axis": {"orient": "right", "values": [-0.3, 0, 0.3, 0.6, 0.9, 1.2, 1.5], "tickSize": -11, "tickWidth": 1.5, "tickColor": "black", "labels": false, "domain": false, "grid": false, "title": null}
        }
      }
    },
    {
      "data": {"values": [{}]},
      "mark": {"type": "text", "text": "F", "font": "Liberation Sans", "fontStyle": "italic", "fontSize": 14, "align": "left", "baseline": "alphabetic", "dx": 13, "dy": 13, "color": "black"},
      "encoding": {
        "x": {"datum": 560.7, "type": "quantitative", "scale": {"domain": [0, 560.7], "nice": false, "zero": false}, "axis": null},
        "y": {
          "datum": 0, "type": "quantitative",
          "scale": {"domain": [-0.5, 1.6], "nice": false, "zero": false},
          "axis": {"orient": "right", "values": [-0.45, -0.15, 0.15, 0.45, 0.75, 1.05, 1.35], "tickSize": -6, "tickWidth": 1.5, "tickColor": "black", "labels": false, "domain": false, "grid": false, "title": null}
        }
      }
    },
    {
      "data": {"values": [{"k": 0, "t": "Γ"}, {"k": 301.3, "t": "Γ"}]},
      "mark": {"type": "text", "font": "Liberation Serif", "fontSize": 20, "align": "center", "baseline": "alphabetic", "dy": 18, "color": "black"},
      "encoding": {
        "x": {"field": "k", "type": "quantitative", "scale": {"domain": [0, 560.7], "nice": false, "zero": false}, "axis": null},
        "y": {"datum": -0.5, "type": "quantitative", "scale": {"domain": [-0.5, 1.6], "nice": false, "zero": false}, "axis": null},
        "text": {"field": "t"}
      }
    },
    {
      "data": {"values": [{"k": 88.3, "t": "X"}, {"k": 176.5, "t": "M"}, {"k": 385, "t": "Z"}, {"k": 473.3, "t": "R"}, {"k": 560.7, "t": "A"}]},
      "mark": {"type": "text", "font": "Liberation Sans", "fontSize": 19, "align": "center", "baseline": "alphabetic", "dy": 18, "color": "black"},
      "encoding": {
        "x": {"field": "k", "type": "quantitative", "scale": {"domain": [0, 560.7], "nice": false, "zero": false}, "axis": null},
        "y": {"datum": -0.5, "type": "quantitative", "scale": {"domain": [-0.5, 1.6], "nice": false, "zero": false}, "axis": null},
        "text": {"field": "t"}
      }
    }
  ]
}
